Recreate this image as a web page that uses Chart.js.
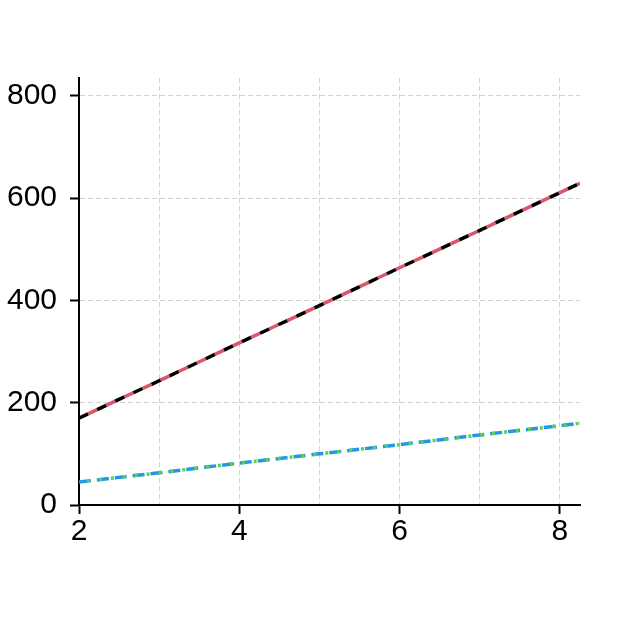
<!DOCTYPE html>
<html>
<head>
<meta charset="utf-8">
<script src="https://cdn.jsdelivr.net/npm/chart.js@4"></script>
<style>
  html, body { margin: 0; padding: 0; background: #fff; }
  #wrap { width: 620px; height: 619px; }
</style>
</head>
<body>
<div id="wrap"><canvas id="chart" width="620" height="619"></canvas></div>
<script>
// values
const xValues = [2, 3, 4, 5, 6, 7, 8, 8.25];
const blackSeries = [170, 243, 317, 390, 464, 537, 611, 629];
const redSeries = [170, 243, 317, 390, 464, 537, 611, 629];
const blueSeries = [45, 63, 82, 100, 118, 137, 155, 160];
const greenSeries = [45, 63, 82, 100, 118, 137, 155, 160];
const yTicks = [0, 200, 400, 600, 800];
const xGridTicks = [2, 3, 4, 5, 6, 7, 8];
const xLabelTicks = [2, 4, 6, 8];

const toPoints = (ys) => xValues.map((x, i) => ({ x: x, y: ys[i] }));

const ctx = document.getElementById("chart").getContext("2d");

new Chart(ctx, {
    type: "line",
    data: {
        datasets: [
            { data: toPoints(greenSeries), borderColor: "#61D04F", borderWidth: 3.5, borderDash: [3, 9], borderDashOffset: 4 },
            { data: toPoints(blueSeries), borderColor: "#2297E6", borderWidth: 3.5, borderDash: [12, 6] },
            { data: toPoints(blackSeries), borderColor: "#000000", borderWidth: 3.5, borderDash: [10, 10] },
            { data: toPoints(redSeries), borderColor: "#DF536B", borderWidth: 3.5, borderDash: [10, 10], borderDashOffset: 10 }
        ]
    },
    options: {
        responsive: false,
        animation: false,
        layout: { padding: { top: 78, right: 40, left: 0, bottom: 0 } },
        elements: { point: { radius: 0 }, line: { tension: 0 } },
        plugins: { legend: { display: false }, tooltip: { enabled: false } },
        scales: {
            x: {
                type: "linear",
                min: 2,
                max: 8.25,
                afterBuildTicks: (axis) => { axis.ticks = xGridTicks.map(v => ({ value: v })); },
                afterFit: (axis) => { axis.height = 114; },
                grid: {
                    color: "#d3d3d3",
                    lineWidth: 1,
                    tickLength: 9,
                    tickWidth: 2,
                    tickColor: (c) => xLabelTicks.includes(c.tick && c.tick.value) ? "#000" : "rgba(0,0,0,0)"
                },
                border: { display: true, color: "#000", width: 2, dash: [5, 3] },
                ticks: {
                    color: "#000",
                    padding: 0,
                    maxRotation: 0,
                    autoSkip: false,
                    font: { family: "Arial, 'Liberation Sans', sans-serif", size: 30 },
                    callback: (v) => xLabelTicks.includes(v) ? String(v) : ""
                }
            },
            y: {
                type: "linear",
                min: 0,
                max: 835,
                afterBuildTicks: (axis) => { axis.ticks = yTicks.map(v => ({ value: v })); },
                afterFit: (axis) => { axis.width = 79; },
                grid: {
                    color: "#d3d3d3",
                    lineWidth: 1,
                    tickLength: 9,
                    tickWidth: 2,
                    tickColor: "#000"
                },
                border: { display: true, color: "#000", width: 2, dash: [5, 3] },
                ticks: {
                    color: "#000",
                    padding: 13,
                    autoSkip: false,
                    font: { family: "Arial, 'Liberation Sans', sans-serif", size: 30 }
                }
            }
        }
    }
});
</script>
</body>
</html>
